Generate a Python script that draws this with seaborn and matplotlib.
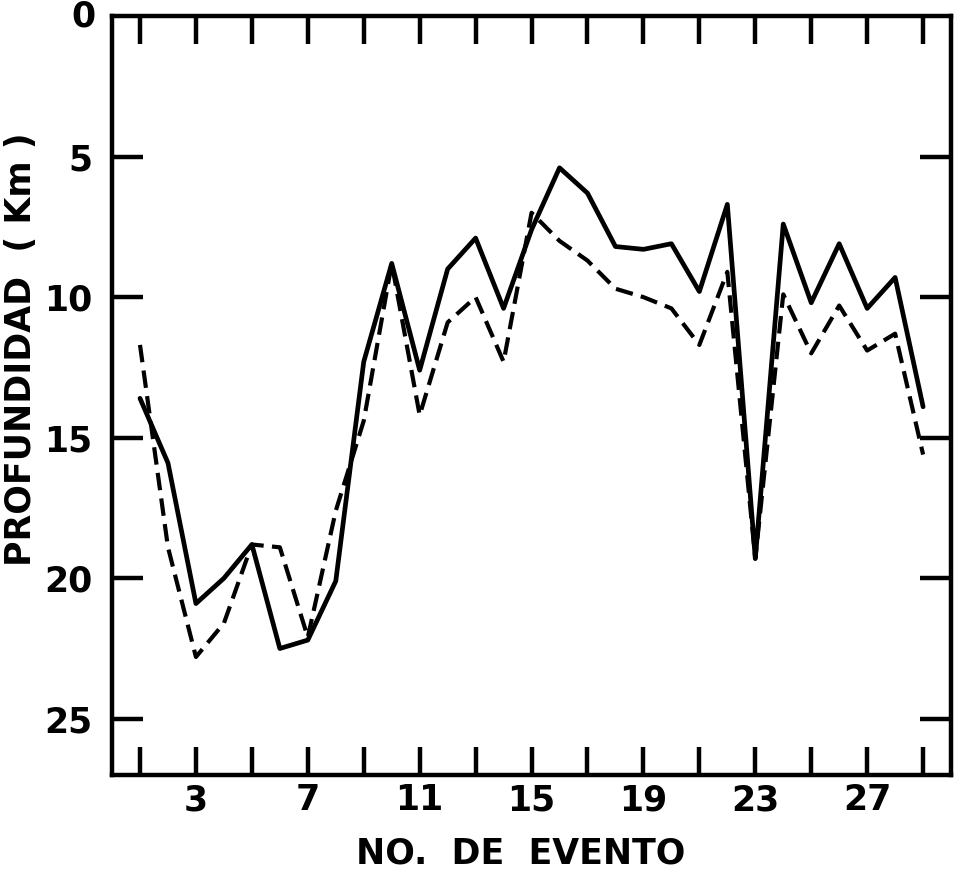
import numpy as np
import pandas as pd
import matplotlib
matplotlib.use("Agg")
import matplotlib.pyplot as plt
import seaborn as sns

# Depth per event (km): solid and dashed solutions
eventos = list(range(1, 30))
prof_solida = [13.6, 15.9, 20.9, 20.0, 18.8, 22.5, 22.2, 20.1, 12.3, 8.8,
               12.6, 9.0, 7.9, 10.4, 7.6, 5.4, 6.3, 8.2, 8.3, 8.1,
               9.8, 6.7, 19.3, 7.4, 10.2, 8.1, 10.4, 9.3, 13.9]
prof_trazos = [11.7, 18.9, 22.8, 21.6, 18.8, 18.9, 22.1, 17.6, 14.4, 8.8,
               14.2, 10.9, 10.0, 12.3, 7.0, 8.0, 8.7, 9.7, 10.0, 10.4,
               11.7, 9.1, 19.3, 9.9, 12.0, 10.3, 11.9, 11.3, 15.6]

xticks = list(range(1, 30, 2))
xtick_labels = ["3", "7", "11", "15", "19", "23", "27"]
yticks = [5, 10, 15, 20, 25]

df = pd.DataFrame({"evento": eventos, "solida": prof_solida, "trazos": prof_trazos})

sns.set_style("ticks")
plt.rcParams['font.family'] = ['DejaVu Sans']

fig = plt.figure(figsize=(9.6, 8.71), dpi=100)
ax = fig.add_axes([0.1167, 0.1102, 0.874, 0.8714])

sns.lineplot(data=df, x="evento", y="solida", color="black", linewidth=3.4, ax=ax)
sns.lineplot(data=df, x="evento", y="trazos", color="black", linewidth=3.0,
             linestyle=(0, (4.2, 2.0)), ax=ax)

ax.set_xlim(0, 30)
ax.set_ylim(27, 0)

for s in ax.spines.values():
    s.set_linewidth(3.2)
    s.set_color("black")

# x ticks: marks at every odd event, labels at 3, 7, 11, ...
ax.set_xticks(xticks)
ax.set_xticklabels(["" if str(t) not in xtick_labels else str(t) for t in xticks])
ax.set_yticks(yticks)
ax.set_yticklabels([str(t) for t in yticks])

ax.tick_params(axis="x", direction="in", length=20, width=3.2, top=True, bottom=True,
               labelsize=25, pad=6, colors="black")
ax.tick_params(axis="y", direction="in", length=22, width=3.2, left=True, right=True,
               labelsize=25, pad=14, colors="black")
for lab in ax.get_xticklabels() + ax.get_yticklabels():
    lab.set_fontweight("bold")

# the "0" label sits on the top corner
ax.text(-0.02, 1.0, "0", transform=ax.transAxes, ha="right", va="center",
        fontsize=25, fontweight="bold", color="black")

ax.set_xlabel("NO.  DE  EVENTO", fontsize=25, fontweight="bold",
              color="black", va="center")
ax.xaxis.set_label_coords(0.487, -0.103)
ax.set_ylabel("PROFUNDIDAD  ( Km )", fontsize=25,
              fontweight="bold", color="black", va="center")
ax.yaxis.set_label_coords(-0.108, 0.561)

fig.savefig("out.png", dpi=100)
